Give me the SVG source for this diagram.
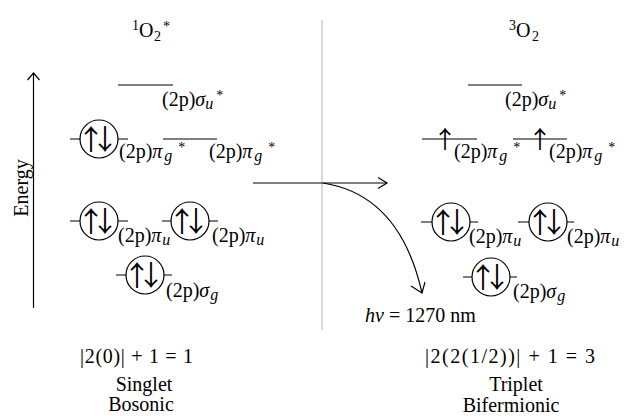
<svg xmlns="http://www.w3.org/2000/svg" width="627" height="416" viewBox="0 0 627 416">
<defs>
<style>
text{font-family:"Liberation Serif","Times New Roman",serif;font-size:20px;fill:#000}
.lv{stroke:#000;stroke-width:1.2;fill:none}
.orb{stroke:#000;stroke-width:1.2;fill:#fff}
.sp{font-family:"Noto Sans CJK JP","Noto Sans CJK SC",sans-serif;font-size:28px;text-anchor:middle;fill:#000}
.sp1{font-family:"Noto Sans CJK JP","Noto Sans CJK SC",sans-serif;font-size:24px;text-anchor:middle;fill:#000}
.it{font-style:italic}
.sb{font-size:16px;font-style:italic}
.st{font-size:14px}
.ax{stroke:#000;stroke-width:1.2;fill:none}
.hd{stroke:#000;stroke-width:1.2;fill:none}
.mid{text-anchor:middle}
</style>
</defs>
<rect width="627" height="416" fill="#fff"/>
<line x1="322" y1="20" x2="322" y2="330" stroke="#b4b4b4" stroke-width="1"/>
<text x="132" y="30" class="st">1</text><text x="139" y="37">O</text><text x="154" y="41" class="st">2</text><text x="163" y="31" class="st">*</text>
<text x="509" y="30" class="st">3</text><text x="516" y="37">O</text><text x="532" y="41" class="st">2</text>
<text transform="translate(28,188) rotate(-90)" class="mid">Energy</text>
<g id="L_su">
<line class="lv" x1="118" y1="85" x2="173" y2="85"/>
<text x="162" y="106">(2p)<tspan class="it">σ</tspan><tspan class="sb" dy="3">u</tspan><tspan class="st" dx="3" dy="-9">*</tspan></text>
</g>
<g id="L_pg1">
<line class="lv" x1="70" y1="139" x2="128" y2="139"/>
<circle class="orb" cx="99" cy="139" r="19"/>
<text x="91 105" y="150" class="sp">↑↓</text>
<text x="119" y="158">(2p)<tspan class="it">π</tspan><tspan class="sb" dx="2" dy="3">g</tspan><tspan class="st" dx="6" dy="-9">*</tspan></text>
</g>
<g id="L_pg2">
<line class="lv" x1="163" y1="139" x2="217" y2="139"/>
<text x="209" y="158">(2p)<tspan class="it">π</tspan><tspan class="sb" dx="2" dy="3">g</tspan><tspan class="st" dx="6" dy="-9">*</tspan></text>
</g>
<g id="L_pu1">
<line class="lv" x1="70" y1="221" x2="128" y2="221"/>
<circle class="orb" cx="99" cy="221" r="19"/>
<text x="91 105" y="232" class="sp">↑↓</text>
<text x="118" y="242">(2p)<tspan class="it">π</tspan><tspan class="sb" dx="1" dy="3">u</tspan></text>
</g>
<g id="L_pu2">
<line class="lv" x1="162" y1="221" x2="218" y2="221"/>
<circle class="orb" cx="190" cy="221" r="19"/>
<text x="182 196" y="232" class="sp">↑↓</text>
<text x="212" y="242">(2p)<tspan class="it">π</tspan><tspan class="sb" dx="1" dy="3">u</tspan></text>
</g>
<g id="L_sg">
<line class="lv" x1="116" y1="275" x2="172" y2="275"/>
<circle class="orb" cx="145" cy="275" r="19"/>
<text x="137 151" y="286" class="sp">↑↓</text>
<text x="166" y="297">(2p)<tspan class="it">σ</tspan><tspan class="sb" dx="1" dy="3">g</tspan></text>
</g>
<g id="R_su">
<line class="lv" x1="468" y1="85" x2="522" y2="85"/>
<text x="505" y="106">(2p)<tspan class="it">σ</tspan><tspan class="sb" dy="3">u</tspan><tspan class="st" dx="3" dy="-9">*</tspan></text>
</g>
<g id="R_pg1">
<line class="lv" x1="422" y1="139" x2="477" y2="139"/>
<text x="445" y="148" class="sp1">↑</text>
<text x="454" y="158">(2p)<tspan class="it">π</tspan><tspan class="sb" dx="2" dy="3">g</tspan><tspan class="st" dx="6" dy="-9">*</tspan></text>
</g>
<g id="R_pg2">
<line class="lv" x1="513" y1="139" x2="567" y2="139"/>
<text x="540" y="148" class="sp1">↑</text>
<text x="549" y="158">(2p)<tspan class="it">π</tspan><tspan class="sb" dx="2" dy="3">g</tspan><tspan class="st" dx="6" dy="-9">*</tspan></text>
</g>
<g id="R_pu1">
<line class="lv" x1="421" y1="222" x2="478" y2="222"/>
<circle class="orb" cx="451" cy="222" r="19"/>
<text x="443 457" y="233" class="sp">↑↓</text>
<text x="469" y="243">(2p)<tspan class="it">π</tspan><tspan class="sb" dx="1" dy="3">u</tspan></text>
</g>
<g id="R_pu2">
<line class="lv" x1="518" y1="222" x2="574" y2="222"/>
<circle class="orb" cx="548" cy="222" r="19"/>
<text x="540 554" y="233" class="sp">↑↓</text>
<text x="567" y="243">(2p)<tspan class="it">π</tspan><tspan class="sb" dx="1" dy="3">u</tspan></text>
</g>
<g id="R_sg">
<line class="lv" x1="463" y1="277" x2="517" y2="277"/>
<circle class="orb" cx="491" cy="277" r="19"/>
<text x="483 497" y="288" class="sp">↑↓</text>
<text x="513" y="298">(2p)<tspan class="it">σ</tspan><tspan class="sb" dx="1" dy="3">g</tspan></text>
</g>
<g id="connectors">
<line class="ax" x1="33.5" y1="308" x2="33.5" y2="73"/>
<polyline class="hd" points="27.5,80 33.5,73 39.5,80"/>
<line class="ax" x1="253" y1="183" x2="387" y2="183"/>
<polyline class="hd" points="378,177.5 387,183 378,188.5"/>
<path class="ax" d="M323,183 Q400,195 422,293"/>
<polyline class="hd" points="411,286 422,293 425,282"/>
</g>
<text x="365" y="322"><tspan class="it">hν</tspan> = 1270 nm</text>
<text x="80" y="363" textLength="113" lengthAdjust="spacing">|2(0)| + 1 = 1</text>
<text x="425" y="363" textLength="170" lengthAdjust="spacing">|2(2(1/2))| + 1 = 3</text>
<text x="144" y="391" class="mid">Singlet</text>
<text x="141" y="411" class="mid">Bosonic</text>
<text x="516" y="391" class="mid">Triplet</text>
<text x="511" y="412" class="mid">Bifermionic</text>
</svg>
